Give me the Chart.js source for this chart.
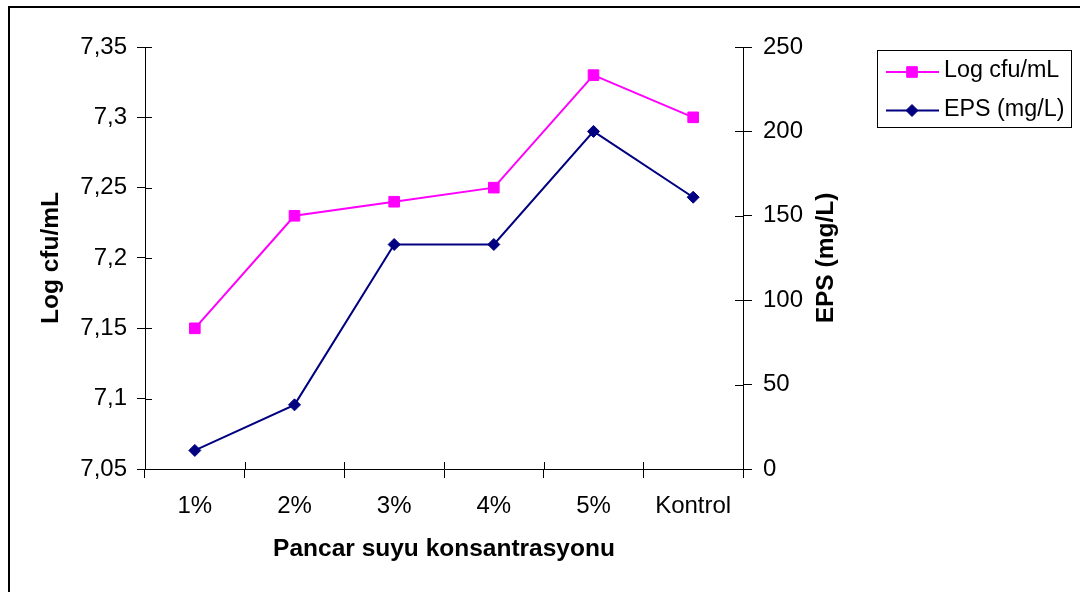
<!DOCTYPE html>
<html lang="tr">
<head>
<meta charset="UTF-8">
<title>Pancar suyu konsantrasyonu</title>
<script src="https://cdn.jsdelivr.net/npm/chart.js"></script>
<style>
  html, body { margin: 0; padding: 0; background: #fff; overflow: hidden; }
  #cerceve {
    position: absolute; left: 8px; top: 6px; width: 1200px; height: 700px;
    border-left: 2px solid #000; border-top: 2px solid #000;
  }
  #grafik { position: absolute; left: 0; top: 0; }
</style>
</head>
<body>
<div id="cerceve"></div>
<canvas id="grafik" width="1080" height="592"></canvas>
<script>
// Veriler
const kategoriler = ['1%', '2%', '3%', '4%', '5%', 'Kontrol'];
const logCfu = [7.15, 7.23, 7.24, 7.25, 7.33, 7.30];
const eps = [11, 38, 133, 133, 200, 161];

// Eksen değerleri
const logTikler = [7.05, 7.1, 7.15, 7.2, 7.25, 7.3, 7.35];
const epsTikler = [0, 50, 100, 150, 200, 250];

const yazi = "'Liberation Sans', Arial, sans-serif";

// Eksen çizgisinin iç tarafına kısa çentikler
const icCentikler = {
  id: 'icCentikler',
  afterDraw(chart) {
    const { ctx } = chart;
    const { x, y, y2 } = chart.scales;
    const hiza = v => Math.round(v) + 0.5;
    ctx.save();
    ctx.strokeStyle = '#000';
    ctx.lineWidth = 1;
    ctx.beginPath();
    y.ticks.forEach(t => {
      const p = hiza(y.getPixelForValue(t.value));
      ctx.moveTo(y.right, p);
      ctx.lineTo(y.right + 7, p);
    });
    y2.ticks.forEach(t => {
      const p = hiza(y2.getPixelForValue(t.value));
      ctx.moveTo(y2.left, p);
      ctx.lineTo(y2.left - 8, p);
    });
    for (let i = 0; i <= kategoriler.length; i++) {
      const p = hiza(x.getPixelForValue(i - 0.5));
      ctx.moveTo(p, x.top);
      ctx.lineTo(p, x.top - 7);
    }
    ctx.stroke();
    ctx.restore();
  }
};

// Sağ eksen başlığı (aşağıdan yukarı okunur) ve açıklama kutusu
const baslikVeAciklama = {
  id: 'baslikVeAciklama',
  afterDraw(chart) {
    const { ctx, chartArea } = chart;
    ctx.save();
    ctx.fillStyle = '#000';
    ctx.font = 'bold 24.5px ' + yazi;
    ctx.textAlign = 'center';
    ctx.textBaseline = 'middle';
    ctx.translate(chartArea.right + 83, (chartArea.top + chartArea.bottom) / 2);
    ctx.rotate(-Math.PI / 2);
    ctx.fillText('EPS (mg/L)', 0, 0);
    ctx.restore();

    // açıklama kutusu
    const kx = 877, ky = 50, kw = 194, kh = 77;
    ctx.save();
    ctx.strokeStyle = '#000';
    ctx.lineWidth = 1;
    ctx.strokeRect(kx + 0.5, ky + 0.5, kw, kh);
    chart.data.datasets.forEach((ds, i) => {
      const sy = ky + 22 + i * 38.5;
      ctx.strokeStyle = ds.borderColor;
      ctx.lineWidth = ds.borderWidth;
      ctx.beginPath();
      ctx.moveTo(886, sy);
      ctx.lineTo(939, sy);
      ctx.stroke();
      ctx.fillStyle = ds.backgroundColor;
      ctx.lineWidth = ds.pointBorderWidth;
      Chart.helpers.drawPoint(ctx, {
        pointStyle: ds.pointStyle,
        radius: ds.pointRadius,
        borderWidth: ds.pointBorderWidth,
        rotation: 0
      }, 912, sy);
      ctx.fillStyle = '#000';
      ctx.font = '23.3px ' + yazi;
      ctx.textAlign = 'left';
      ctx.textBaseline = 'middle';
      ctx.fillText(ds.label, 944, sy - 1);
    });
    ctx.restore();
  }
};

new Chart(document.getElementById('grafik'), {
  type: 'line',
  data: {
    labels: kategoriler,
    datasets: [
      {
        label: 'Log cfu/mL',
        data: logCfu,
        yAxisID: 'y',
        borderColor: '#FF00FF',
        backgroundColor: '#FF00FF',
        borderWidth: 2,
        pointStyle: 'rect',
        pointRadius: 7.5,
        pointBorderWidth: 1,
        tension: 0
      },
      {
        label: 'EPS (mg/L)',
        data: eps,
        yAxisID: 'y2',
        borderColor: '#000080',
        backgroundColor: '#000080',
        borderWidth: 2,
        pointStyle: 'rectRot',
        pointRadius: 6,
        pointBorderWidth: 1,
        tension: 0
      }
    ]
  },
  options: {
    responsive: false,
    animation: false,
    layout: { padding: { top: 47, left: 0, right: 0, bottom: 0 } },
    plugins: {
      legend: { display: false },
      tooltip: { enabled: false }
    },
    scales: {
      x: {
        offset: true,
        grid: { offset: true, drawOnChartArea: false, color: '#000', tickLength: 9 },
        border: { color: '#000', width: 1 },
        ticks: { color: '#000', padding: 14, maxRotation: 0, font: { family: yazi, size: 24 } },
        title: {
          display: true,
          text: 'Pancar suyu konsantrasyonu',
          color: '#000',
          font: { family: yazi, size: 24.5, weight: 'bold' },
          padding: { top: 0, bottom: 28 }
        },
        afterFit: s => { s.height = 123; }
      },
      y: {
        position: 'left',
        min: logTikler[0],
        max: logTikler[logTikler.length - 1],
        afterBuildTicks: s => { s.ticks = logTikler.map(v => ({ value: v })); },
        grid: { drawOnChartArea: false, color: '#000', tickLength: 8 },
        border: { color: '#000', width: 1 },
        ticks: {
          color: '#000',
          padding: 10,
          font: { family: yazi, size: 24 },
          callback: v => String(v).replace('.', ',')
        },
        title: {
          display: true,
          text: 'Log cfu/mL',
          color: '#000',
          font: { family: yazi, size: 24.5, weight: 'bold' },
          padding: { top: 37, bottom: 0 }
        },
        afterFit: s => { s.width = 145; }
      },
      y2: {
        position: 'right',
        min: epsTikler[0],
        max: epsTikler[epsTikler.length - 1],
        afterBuildTicks: s => { s.ticks = epsTikler.map(v => ({ value: v })); },
        grid: { drawOnChartArea: false, color: '#000', tickLength: 9 },
        border: { color: '#000', width: 1 },
        ticks: { color: '#000', padding: 11, font: { family: yazi, size: 24 } },
        afterFit: s => { s.width = 337; }
      }
    }
  },
  plugins: [icCentikler, baslikVeAciklama]
});
</script>
</body>
</html>
